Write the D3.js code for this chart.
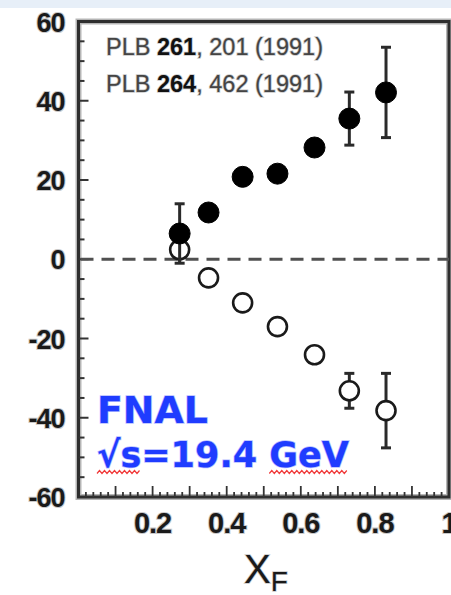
<!DOCTYPE html>
<html lang="en">
<head>
    <meta charset="UTF-8">
    <title>FNAL xF</title>
    <style>
        body { margin: 0; background: #fff; }
        svg { display: block; }
    </style>
</head>
<body>
<div id="content"></div>

<script src="https://d3js.org/d3.v7.min.js"></script>
<script>

    // data
    var xF = [0.273, 0.351, 0.443, 0.537, 0.637, 0.731, 0.830];
    var filledAN = [6.5, 11.8, 20.8, 21.6, 28.2, 35.5, 42.1];
    var filledErr = [7.5, 1, 1, 1, 2, 6.7, 11.4];
    var openAN = [2.4, -4.7, -11.0, -17.0, -24.1, -33.2, -38.2];
    var openErr = [3, 1, 1, 1, 1, 4.4, 9.4];

    var yTicks = [-60, -40, -20, 0, 20, 40, 60];
    var xTicks = [0.2, 0.4, 0.6, 0.8, 1];
    var refLines = [["PLB ", "261", ", 201 (1991)"], ["PLB ", "264", ", 462 (1991)"]];

    var width = 451, height = 595;

    var svg = d3.select("#content")
        .append("svg")
        .attr("width", width)
        .attr("height", height);

    // light band at the top
    svg.append("rect")
        .attr("x", 0).attr("y", 0)
        .attr("width", width).attr("height", 8)
        .attr("fill", "#e7eff8");

    var xScale = d3.scaleLinear().domain([0, 1]).range([78.5, 449]);
    var yScale = d3.scaleLinear().domain([-60, 60]).range([497, 21.5]);

    var axisColor = "#333";
    var halo = "#c9c9c9";

    var x0 = xScale(0), x1 = xScale(1), yTop = yScale(60), yBot = yScale(-60);

    // frame: soft grey halo, then the dark line on top
    [["#b5b5b5", 6], ["#2e2e2e", 3]].forEach(function (s) {
        svg.append("rect")
            .attr("x", x0)
            .attr("y", yTop)
            .attr("width", x1 - x0)
            .attr("height", yBot - yTop)
            .attr("fill", "none")
            .attr("stroke", s[0])
            .attr("stroke-width", s[1]);
    });

    // minor/major ticks on y (inside)
    var yMinor = d3.range(-55, 60, 5);
    svg.append("g").selectAll("line")
        .data(yMinor)
        .join("line")
        .attr("x1", x0)
        .attr("x2", function (d) { return x0 + (d % 20 === 0 ? 10 : 6); })
        .attr("y1", function (d) { return yScale(d); })
        .attr("y2", function (d) { return yScale(d); })
        .attr("stroke", axisColor)
        .attr("stroke-width", 2);

    // ticks on x (inside, pointing up)
    var xMinor = d3.range(1, 50).map(function (k) { return k / 50; });
    svg.append("g").selectAll("line")
        .data(xMinor)
        .join("line")
        .attr("x1", function (d) { return xScale(d); })
        .attr("x2", function (d) { return xScale(d); })
        .attr("y1", yBot)
        .attr("y2", function (d) {
            var major = Math.abs(Math.round(d * 10) - d * 10) < 1e-6;
            return yBot - (major ? 11 : 5);
        })
        .attr("stroke", axisColor)
        .attr("stroke-width", 1.8);

    // y tick labels
    svg.append("g").selectAll("text")
        .data(yTicks)
        .join("text")
        .attr("x", x0 - 14)
        .attr("y", function (d) { return yScale(d) + 10; })
        .attr("text-anchor", "end")
        .attr("font-family", "Liberation Sans, Arial, sans-serif")
        .attr("font-weight", "bold")
        .attr("font-size", 27)
        .attr("letter-spacing", -1)
        .attr("fill", "#1a1a1a")
        .attr("stroke", halo)
        .attr("stroke-width", 2)
        .attr("paint-order", "stroke")
        .text(function (d) { return d; });

    // x tick labels
    svg.append("g").selectAll("text")
        .data(xTicks)
        .join("text")
        .attr("x", function (d) { return xScale(d); })
        .attr("y", 533)
        .attr("text-anchor", "middle")
        .attr("font-family", "Liberation Sans, Arial, sans-serif")
        .attr("font-weight", "bold")
        .attr("font-size", 29)
        .attr("letter-spacing", -1)
        .attr("fill", "#1a1a1a")
        .attr("stroke", halo)
        .attr("stroke-width", 2)
        .attr("paint-order", "stroke")
        .text(function (d) { return d; });

    // x axis title X_F
    var xTitle = svg.append("text")
        .attr("x", 266)
        .attr("y", 583)
        .attr("text-anchor", "middle")
        .attr("font-family", "Liberation Sans, Arial, sans-serif")
        .attr("font-size", 40)
        .attr("fill", "#1a1a1a")
        .attr("stroke", halo)
        .attr("stroke-width", 1.5)
        .attr("paint-order", "stroke");
    xTitle.append("tspan").text("X");
    xTitle.append("tspan").attr("font-size", 28).attr("dy", 8).text("F");

    // dashed zero line
    svg.append("line")
        .attr("x1", x0 + 2)
        .attr("x2", x1)
        .attr("y1", yScale(0))
        .attr("y2", yScale(0))
        .attr("stroke", "#505050")
        .attr("stroke-width", 3)
        .attr("stroke-dasharray", "13 8");

    // reference text
    var refText = svg.append("g").selectAll("text")
        .data(refLines)
        .join("text")
        .attr("x", 106)
        .attr("y", function (d, i) { return 55 + i * 37; })
        .attr("font-family", "Liberation Sans, Arial, sans-serif")
        .attr("font-size", 23)
        .attr("textLength", 217)
        .attr("lengthAdjust", "spacingAndGlyphs")
        .attr("stroke", halo)
        .attr("stroke-width", 1.5)
        .attr("paint-order", "stroke");
    refText.each(function (d) {
        var t = d3.select(this);
        t.append("tspan").attr("fill", "#444").text(d[0]);
        t.append("tspan").attr("fill", "#111").attr("font-weight", "bold").text(d[1]);
        t.append("tspan").attr("fill", "#444").text(d[2]);
    });

    // data series
    function drawSeries(values, errs, filled) {
        var g = svg.append("g");
        var rows = xF.map(function (x, i) { return {x: x, y: values[i], e: errs[i]}; });

        g.selectAll("line.bar")
            .data(rows)
            .join("line")
            .attr("class", "bar")
            .attr("x1", function (d) { return xScale(d.x); })
            .attr("x2", function (d) { return xScale(d.x); })
            .attr("y1", function (d) { return yScale(d.y + d.e); })
            .attr("y2", function (d) { return yScale(d.y - d.e); })
            .attr("stroke", "#2a2a2a")
            .attr("stroke-width", 3);

        [1, -1].forEach(function (s) {
            g.selectAll("line.cap" + (s > 0 ? "up" : "down"))
                .data(rows.filter(function (d) { return d.e > 3; }))
                .join("line")
                .attr("class", "cap" + (s > 0 ? "up" : "down"))
                .attr("x1", function (d) { return xScale(d.x) - 5; })
                .attr("x2", function (d) { return xScale(d.x) + 5; })
                .attr("y1", function (d) { return yScale(d.y + s * d.e); })
                .attr("y2", function (d) { return yScale(d.y + s * d.e); })
                .attr("stroke", "#2a2a2a")
                .attr("stroke-width", 3);
        });

        g.selectAll("circle")
            .data(rows)
            .join("circle")
            .attr("cx", function (d) { return xScale(d.x); })
            .attr("cy", function (d) { return yScale(d.y); })
            .attr("r", filled ? 10.5 : 9.5)
            .attr("fill", filled ? "#000" : "#fff")
            .attr("stroke", filled ? "#000" : "#1a1a1a")
            .attr("stroke-width", filled ? 1 : 2.6);
    }

    drawSeries(openAN, openErr, false);
    drawSeries(filledAN, filledErr, true);

    // FNAL label
    var blue = "#1f3cff";
    svg.append("text")
        .attr("x", 97)
        .attr("y", 423)
        .attr("font-family", "DejaVu Sans, sans-serif")
        .attr("font-weight", "bold")
        .attr("font-size", 38)
        .attr("textLength", 111)
        .attr("lengthAdjust", "spacingAndGlyphs")
        .attr("fill", blue)
        .attr("stroke", "#b8c0ff")
        .attr("stroke-width", 1.5)
        .attr("paint-order", "stroke")
        .text("FNAL");

    var str = "\u221As=19.4 GeV";
    var energy = svg.append("text")
        .attr("x", 97)
        .attr("y", 467)
        .attr("font-family", "DejaVu Sans, sans-serif")
        .attr("font-weight", "bold")
        .attr("font-size", 36)
        .attr("textLength", 252)
        .attr("lengthAdjust", "spacingAndGlyphs")
        .attr("fill", blue)
        .attr("stroke", "#b8c0ff")
        .attr("stroke-width", 1.5)
        .attr("paint-order", "stroke")
        .text(str);

    // red wavy underlines under "√s" and "GeV"
    var node = energy.node();
    function squiggle(i0, i1) {
        var a = node.getStartPositionOfChar(i0).x;
        var b = node.getEndPositionOfChar(i1).x;
        var yBase = 472, pts = [];
        for (var x = a, k = 0; x <= b; x += 2.5, k++) {
            pts.push([x, yBase + (k % 2 ? -1.5 : 1.5)]);
        }
        svg.append("path")
            .attr("d", d3.line()(pts))
            .attr("fill", "none")
            .attr("stroke", "#f03a3a")
            .attr("stroke-width", 1.2);
    }
    squiggle(0, 1);
    squiggle(str.indexOf("G"), str.length - 1);

</script>
</body>
</html>
